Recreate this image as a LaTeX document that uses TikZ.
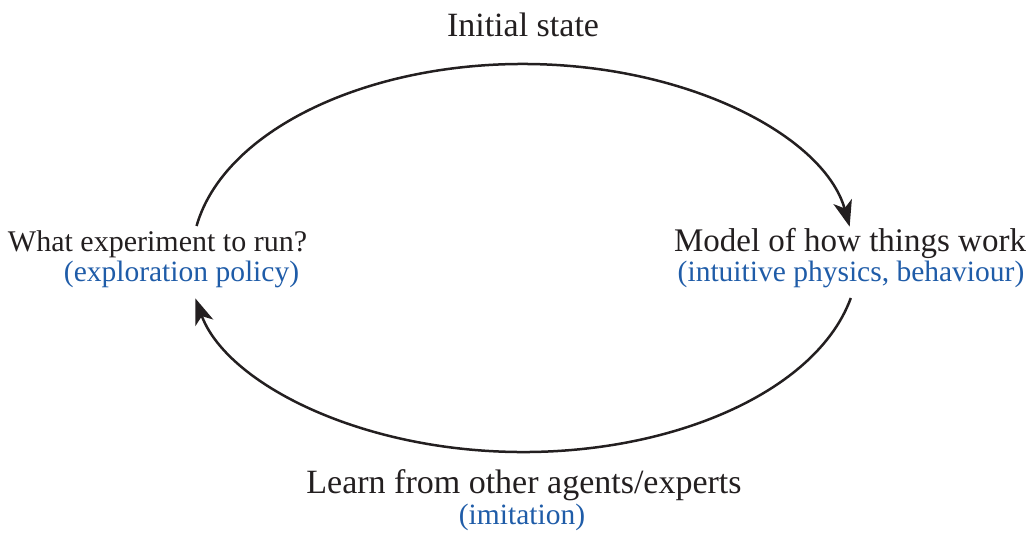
\documentclass[tikz,border=0pt]{standalone}
\usepackage{fontspec}
\setmainfont{Liberation Serif}
\usetikzlibrary{arrows.meta,calc}
\definecolor{ink}{HTML}{231F20}
\definecolor{note}{HTML}{1F5CA8}
\tikzset{
  main/.style={anchor=base, inner sep=0pt, text=ink},
  sub/.style={anchor=base, inner sep=0pt, text=note, font=\fontsize{29.5}{33}\selectfont},
  loop/.style={draw=ink, line width=2.5pt, -{Stealth[length=26pt, width=19pt, inset=7pt]}}
}
\begin{document}
\begin{tikzpicture}[x=1pt, y=1pt]
  \useasboundingbox (0,0) rectangle (1032,533);

  % labels
  \node[main, font=\fontsize{34}{38}\selectfont] (init) at (523,496) {Initial state};
  \node[main, font=\fontsize{30}{34}\selectfont] (exp) at (157.5,281) {What experiment to run?};
  \node[sub] (expnote) at (181.5,251) {(exploration policy)};
  \node[main, font=\fontsize{33}{37}\selectfont] (model) at (850,281) {Model of how things work};
  \node[sub] (modelnote) at (851,251) {(intuitive physics, behaviour)};
  \node[main, font=\fontsize{34}{38}\selectfont] (learn) at (524,40) {Learn from other agents/experts};
  \node[sub] (learnnote) at (522,9) {(imitation)};

  % ends of the two arcs of the cycle
  \coordinate (topstart) at ($(523,275)+(170.5:331 and 194)$);
  \coordinate (botstart) at ($(523,275)+(-11.9:335 and 194)$);

  % upper arc: experiment -> model
  \draw[loop] (topstart) arc[start angle=170.5, end angle=9.3, x radius=331, y radius=194];
  % lower arc: model -> experiment
  \draw[loop] (botstart) arc[start angle=-11.9, end angle=-168, x radius=335, y radius=194];
\end{tikzpicture}
\end{document}
